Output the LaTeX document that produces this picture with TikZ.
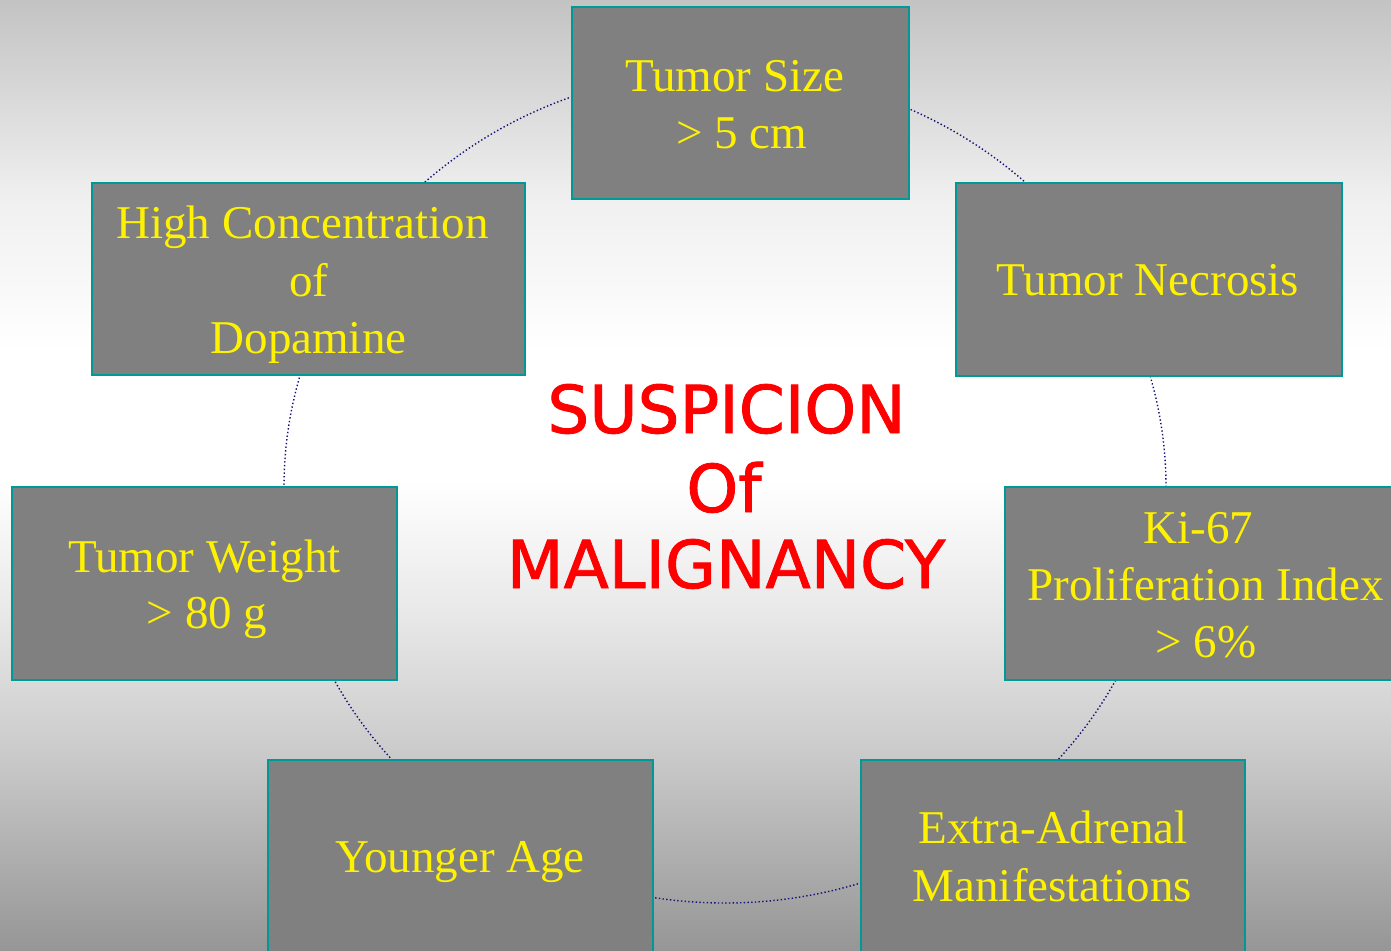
\documentclass[tikz,border=0pt]{standalone}
\usepackage{fontspec}
\setmainfont{Liberation Serif}
\newfontfamily\redfont[FakeBold=1.3]{DejaVu Sans}
\definecolor{boxgray}{RGB}{128,128,128}
\definecolor{boxborder}{RGB}{0,153,153}
\definecolor{ringblue}{RGB}{20,20,120}
\definecolor{bgA}{RGB}{195,195,195}
\definecolor{bgB}{RGB}{240,240,240}
\definecolor{bgC}{RGB}{255,255,255}
\definecolor{bgD}{RGB}{233,233,233}
\definecolor{bgE}{RGB}{203,203,203}
\definecolor{bgF}{RGB}{150,150,150}
\begin{document}
\begin{tikzpicture}[x=1pt,y=-1pt,
  box/.style={draw=boxborder, line width=2pt, fill=boxgray, inner sep=0pt, rectangle},
  ytext/.style={text=yellow, font=\fontsize{47}{56}\selectfont, anchor=base, inner sep=0pt},
  rtext/.style={text=red, font=\redfont\fontsize{66}{80}\selectfont, anchor=base, inner sep=0pt},
  ring/.style={draw=ringblue, line width=1.4pt, dash pattern=on 1.4pt off 2.3pt}]
\clip (0,0) rectangle (1391,950);
% background gradient
\shade[top color=bgA, bottom color=bgB] (0,0) rectangle (1391,200.5);
\shade[top color=bgB, bottom color=bgC] (0,200) rectangle (1391,350.5);
\fill[bgC] (0,350) rectangle (1391,480.5);
\shade[top color=bgC, bottom color=bgD] (0,480) rectangle (1391,610.5);
\shade[top color=bgD, bottom color=bgE] (0,610) rectangle (1391,750.5);
\shade[top color=bgE, bottom color=bgF] (0,750) rectangle (1391,950);
% ring
\coordinate (c) at (725,487);
\draw[ring] (c) ellipse [x radius=441pt, y radius=416pt];
% boxes
\node[box, minimum width=337pt, minimum height=192pt] (ts) at (740.5,103) {};
\node[box, minimum width=386pt, minimum height=193pt] (tn) at (1149,279.5) {};
\node[box, minimum width=390pt, minimum height=193pt] (ki) at (1200,583.5) {};
\node[box, minimum width=384pt, minimum height=193pt] (ea) at (1053,856.5) {};
\node[box, minimum width=385pt, minimum height=193pt] (ya) at (460.5,856.5) {};
\node[box, minimum width=385pt, minimum height=193pt] (tw) at (204.5,583.5) {};
\node[box, minimum width=433pt, minimum height=192pt] (hc) at (308.5,279) {};
% yellow texts
\node[ytext] (ts1) at (734.5,92) {Tumor Size};
\node[ytext] (ts2) at (741.5,148) {> 5 cm};
\node[ytext] (tn1) at (1148,295) {Tumor Necrosis};
\node[ytext] (ki1) at (1198.5,543) {Ki-67};
\node[ytext] (ki2) at (1205.5,600) {Proliferation Index};
\node[ytext] (ki3) at (1206,657) {> 6\%};
\node[ytext] (ea1) at (1053,843) {Extra-Adrenal};
\node[ytext] (ea2) at (1052.5,901) {Manifestations};
\node[ytext] (ya1) at (460,872) {Younger Age};
\node[ytext] (tw1) at (204.5,572) {Tumor Weight};
\node[ytext] (tw2) at (207,628) {> 80 g};
\node[ytext] (hc1) at (302.5,238) {High Concentration};
\node[ytext] (hc2) at (309,296) {of};
\node[ytext] (hc3) at (308.5,353) {Dopamine};
% central red text
\node[rtext] (s1) at (726.5,433) {SUSPICION};
\node[rtext] (s2) at (724,512) {Of};
\node[rtext] (s3) at (726,588) {MALIGNANCY};
\end{tikzpicture}
\end{document}
